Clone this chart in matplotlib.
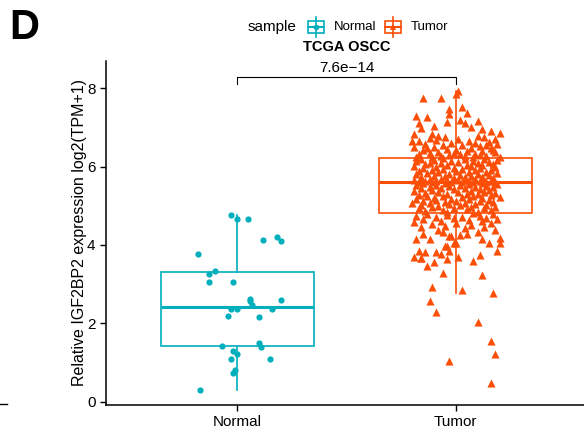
import numpy as np
import matplotlib.pyplot as plt
from matplotlib.patches import Rectangle

plt.rcParams['font.family'] = ['Liberation Sans', 'DejaVu Sans']

# Data
groups = ["Normal", "Tumor"]
colors = ["#00AFBB", "#FC4E07"]
p_label = "7.6e\u221214"

normal_vals = [4.77, 4.66, 4.65, 4.13, 4.21, 4.10, 3.76, 3.33, 3.26, 3.05,
               3.05, 2.63, 2.58, 2.60, 2.46, 2.38, 2.38, 2.38, 2.18, 2.16,
               1.43, 1.51, 1.41, 1.29, 1.23, 1.09, 1.09, 0.82, 0.73, 0.30]
normal_jit = [-0.03, 0.00, 0.05, 0.12, 0.18, 0.20, -0.18, -0.10, -0.13, -0.13,
              -0.02, 0.06, 0.06, 0.20, 0.07, -0.03, 0.00, 0.16, -0.04, 0.10,
              -0.07, 0.10, 0.11, -0.02, 0.00, -0.03, 0.15, -0.01, -0.02, -0.17]

tumor_vals = [
    # above upper quartile
    7.92, 7.85, 7.75, 7.74, 7.52, 7.46, 7.37, 7.33, 7.30, 7.27, 7.18, 7.10,
    7.00, 7.13, 7.15, 7.12, 7.03, 6.97, 6.95, 6.91, 6.86, 6.83, 6.82,
    6.78, 6.76, 6.74, 6.72, 6.70, 6.68, 6.66, 6.64, 6.63, 6.61, 6.60, 6.58,
    6.57, 6.55, 6.54, 6.52, 6.51, 6.49, 6.48, 6.46, 6.45, 6.43, 6.42, 6.40,
    6.39, 6.37, 6.36, 6.35, 6.33, 6.32, 6.31, 6.30, 6.28, 6.27, 6.26, 6.25,
    6.24, 6.23, 6.23, 6.79, 6.71, 6.65, 6.56, 6.47, 6.41, 6.34, 6.29,
    # median to upper quartile
    6.21, 6.20, 6.19, 6.18, 6.17, 6.16, 6.15, 6.14, 6.13, 6.12, 6.11, 6.10,
    6.09, 6.08, 6.07, 6.06, 6.05, 6.04, 6.03, 6.02, 6.01, 5.99, 5.98, 5.97,
    5.96, 5.95, 5.94, 5.93, 5.92, 5.91, 5.90, 5.89, 5.88, 5.87, 5.86, 5.85,
    5.84, 5.83, 5.82, 5.81, 5.80, 5.79, 5.78, 5.77, 5.76, 5.75, 5.74, 5.73,
    5.72, 5.71, 5.70, 5.69, 5.68, 5.67, 5.66, 5.66, 5.65, 5.64, 5.64, 5.63,
    5.63, 5.62, 5.62, 5.61, 5.61, 5.61, 5.60, 5.60, 5.60, 5.60,
    # lower quartile to median
    5.59, 5.58, 5.57, 5.56, 5.55, 5.54, 5.53, 5.52, 5.51, 5.50, 5.49, 5.48,
    5.47, 5.46, 5.45, 5.44, 5.43, 5.42, 5.41, 5.40, 5.38, 5.37, 5.36, 5.35,
    5.34, 5.33, 5.32, 5.31, 5.30, 5.29, 5.28, 5.27, 5.26, 5.25, 5.24, 5.23,
    5.22, 5.21, 5.20, 5.18, 5.17, 5.16, 5.15, 5.14, 5.13, 5.12, 5.11, 5.10,
    5.09, 5.08, 5.07, 5.06, 5.05, 5.04, 5.03, 5.02, 5.01, 4.99, 4.98, 4.97,
    4.96, 4.95, 4.94, 4.93, 4.91, 4.90, 4.88, 4.87, 4.85, 4.83,
    # below lower quartile
    4.81, 4.80, 4.78, 4.77, 4.75, 4.74, 4.72, 4.71, 4.69, 4.68, 4.66, 4.65,
    4.63, 4.62, 4.60, 4.58, 4.57, 4.55, 4.53, 4.51, 4.49, 4.47, 4.45, 4.42,
    4.39, 4.37,
    4.34, 4.33, 4.29, 4.27, 4.26, 4.22, 4.22, 4.18, 4.16, 4.16, 4.15, 4.06,
    4.05, 4.05, 4.04, 3.97, 3.97, 3.84, 3.84, 3.81, 3.81, 3.85, 3.77, 3.74,
    3.69, 3.67, 3.66, 3.64, 3.70, 3.60, 3.56, 3.46, 3.28, 3.24,
    2.92, 2.86, 2.78, 2.58, 2.29, 2.03, 1.54, 1.23, 1.05, 0.48,
]
tumor_jit = [
    0.01, 0.00, -0.15, -0.07, 0.03, -0.03, 0.05, -0.03, -0.18, -0.13, 0.02, 0.04,
    0.07, -0.04, 0.10, -0.17, -0.10, -0.16, 0.12, 0.16, 0.20, -0.19, -0.11,
    -0.08, -0.05, 0.13, -0.12, 0.18, -0.09, 0.06, -0.17, 0.15, -0.02, 0.09, -0.14,
    0.19, -0.06, 0.03, 0.11, -0.19, -0.10, 0.07, 0.16, -0.04, 0.00, -0.15, 0.12,
    0.05, -0.08, 0.18, -0.12, 0.02, -0.17, 0.09, -0.03, 0.14, -0.07, 0.04, -0.18,
    0.20, -0.11, 0.08, 0.10, 0.01, -0.20, 0.14, -0.13, 0.17, -0.01, 0.11,
    -0.06, 0.13, -0.16, 0.04, 0.19, -0.10, 0.08, -0.02, -0.18, 0.15, 0.01, -0.12,
    0.10, -0.07, 0.17, -0.14, 0.05, -0.04, 0.12, -0.19, 0.07, -0.09, 0.18, -0.01,
    0.11, -0.15, 0.03, -0.06, 0.16, -0.11, 0.09, -0.17, 0.00, 0.14, -0.08, 0.06,
    -0.13, 0.19, -0.03, 0.10, -0.18, 0.02, 0.15, -0.10, 0.07, -0.05, 0.12, -0.16,
    0.04, -0.01, 0.17, -0.12, 0.09, -0.07, 0.13, -0.19, 0.01, -0.04, 0.16, -0.14,
    0.06, 0.11, -0.09, 0.03, -0.17, 0.18, -0.02, 0.08, -0.11, 0.14,
    -0.05, 0.12, -0.15, 0.06, 0.19, -0.09, 0.02, -0.18, 0.14, -0.03, 0.09, -0.12,
    0.17, -0.07, 0.04, -0.16, 0.11, -0.01, 0.15, -0.11, 0.07, -0.19, 0.01, 0.13,
    -0.08, 0.18, -0.14, 0.05, -0.04, 0.10, -0.17, 0.16, -0.06, 0.08, -0.13, 0.03,
    0.20, -0.10, 0.12, -0.02, -0.18, 0.06, 0.15, -0.09, 0.00, -0.15, 0.11, -0.05,
    0.17, -0.12, 0.04, -0.20, 0.09, -0.03, 0.14, -0.16, 0.02, -0.08, 0.18, -0.11,
    0.07, -0.01, 0.13, -0.17, 0.05, -0.06, 0.16, -0.14, 0.10, -0.04,
    0.08, -0.13, 0.17, -0.04, 0.11, -0.18, 0.03, -0.09, 0.14, -0.01, -0.15, 0.19,
    0.06, -0.07, 0.12, -0.19, 0.00, 0.16, -0.11, 0.07, -0.05, 0.13, -0.16, 0.04,
    -0.08, 0.18,
    0.10, -0.06, 0.05, -0.15, 0.02, -0.03, -0.02, 0.20, 0.12, -0.18, -0.12, 0.20,
    -0.01, 0.00, 0.15, -0.05, -0.04, 0.19, -0.03, -0.09, -0.14, -0.17, -0.07, 0.11,
    0.01, -0.16, -0.16, -0.04, -0.19, 0.08, -0.10, -0.13, -0.06, 0.12,
    -0.11, 0.03, 0.17, -0.12, -0.09, 0.10, 0.16, 0.18, -0.03, 0.16,
]

fig = plt.figure(figsize=(5.84, 4.32), dpi=100)
ax = fig.add_axes([106 / 584, 27 / 432, 481 / 584, 344 / 432])

bp = ax.boxplot([normal_vals, tumor_vals], positions=[1, 2], widths=0.7,
                showfliers=False, showcaps=False, patch_artist=True)
for i, c in enumerate(colors):
    bp["boxes"][i].set(facecolor="white", edgecolor=c, linewidth=1.2, zorder=1)
    bp["medians"][i].set(color=c, linewidth=2.2, zorder=1)
    for w in bp["whiskers"][2 * i:2 * i + 2]:
        w.set(color=c, linewidth=1.2, zorder=1)

ax.scatter(1 + np.array(normal_jit), normal_vals, s=20, marker="o",
           color=colors[0], linewidths=0, zorder=3)
ax.scatter(2 + np.array(tumor_jit), tumor_vals, s=34, marker="^",
           color=colors[1], linewidths=0, zorder=3)

ax.set_xlim(0.4, 2.6)
ax.set_ylim(-0.08, 8.69)
ax.set_yticks([0, 2, 4, 6, 8])
ax.set_xticks([1, 2])
ax.set_xticklabels(groups)
ax.tick_params(labelsize=11, length=4, width=1, colors="black")
for side in ["top", "right"]:
    ax.spines[side].set_visible(False)
for side in ["left", "bottom"]:
    ax.spines[side].set_linewidth(1.1)
ax.set_ylabel("Relative IGF2BP2 expression log2(TPM+1)", fontsize=11.5,
              labelpad=0)

# significance bracket
ax.plot([1, 1, 2, 2], [8.10, 8.28, 8.28, 8.10], color="black", lw=0.8,
        clip_on=False)
ax.text(1.5, 8.34, p_label, ha="center", va="bottom", fontsize=11)

# overlay for panel letter, title and legend (pixel coordinates)
ov = fig.add_axes([0, 0, 1, 1], zorder=-1)
ov.set_xlim(0, 584)
ov.set_ylim(432, 0)
ov.axis("off")
ov.text(9, 28, "D", fontsize=30, fontweight="bold", va="center", ha="left")
ov.plot([0, 7], [404, 404], color="black", lw=1)
ov.text(346.5, 47, "TCGA OSCC", fontsize=10.5, fontweight="bold",
        va="center", ha="center")
ov.text(248, 27, "sample", fontsize=11, va="center", ha="left")
legend_items = [(315.5, "Normal", "o", 4), (393, "Tumor", "^", 5)]
for (cx, lab, mk, ms), c in zip(legend_items, colors):
    ov.add_patch(Rectangle((cx - 8, 21), 16, 12, fill=False, edgecolor=c, lw=1.2))
    ov.plot([cx, cx], [17, 37], color=c, lw=1.2)
    ov.plot([cx - 8, cx + 8], [27, 27], color=c, lw=1.5)
    ov.plot([cx], [27], marker=mk, color=c, markersize=ms, markeredgewidth=0)
    ov.text(cx + 18, 27, lab, fontsize=9.5, va="center", ha="left")

fig.savefig("out.png", dpi=100)
